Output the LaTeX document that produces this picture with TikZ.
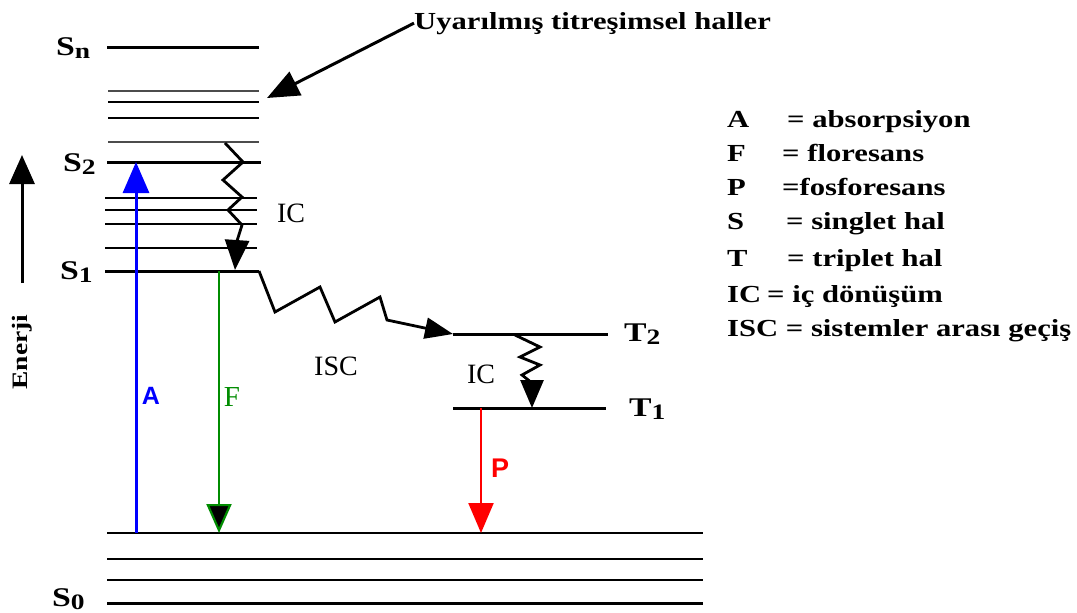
\documentclass[tikz,border=0pt]{standalone}
\usepackage{fontspec}
\setmainfont{Liberation Serif}
\newfontfamily\widebf{Liberation Serif}[FakeStretch=1.25]
\newfontfamily\sansbf{Liberation Sans}
\usetikzlibrary{arrows.meta}
\definecolor{absblue}{RGB}{0,0,255}
\definecolor{flugreen}{RGB}{0,140,0}
\definecolor{phored}{RGB}{255,0,0}
\newcommand{\lsub}[1]{\raisebox{-3pt}{\fontsize{22}{22}\selectfont #1}}

\begin{document}
\begin{tikzpicture}[
    x=1pt, y=-1pt,
    lvl/.style={line width=3pt},
    vib/.style={line width=1.7pt},
    nm/.style={font=\widebf\bfseries\fontsize{27}{27}\selectfont, inner sep=0pt, anchor=base west},
    leg/.style={font=\widebf\bfseries\fontsize{24.5}{24.5}\selectfont, inner sep=0pt, anchor=base west},
    ic/.style={font=\fontsize{28}{28}\selectfont, inner sep=0pt},
    tri/.style={-{Triangle[length=30pt,width=24pt]}},
    wig/.style={tri, line width=2.8pt, line join=miter},
    lt/.style={font=\sansbf\bfseries\fontsize{25}{25}\selectfont, inner sep=0pt}
]
\useasboundingbox (0,0) rectangle (1077,613);

% singlet levels
\draw[lvl] (107,47) -- (259,47);
\draw[vib, black!70] (108,91) -- (259,91);
\draw[vib] (108,102) -- (259,102) (108,118) -- (259,118);
\draw[vib, black!70] (108,142) -- (259,142);
\draw[lvl] (107,162) -- (261,162);
\draw[vib] (105,198) -- (257,198) (105,210) -- (257,210)
           (105,224) -- (257,224) (105,248) -- (257,248);
\draw[lvl] (105,271) -- (259,271);

% ground state
\draw[vib] (107,533) -- (703,533) (107,559) -- (703,559) (107,580) -- (703,580);
\draw[lvl] (107,603) -- (703,603);

% triplet levels
\draw[lvl] (453,334) -- (608,334);
\draw[lvl] (453,408) -- (606,408);

\node[nm] (Sn) at (56,55) {S\lsub{n}};
\node[nm] (S2) at (63,171) {S\lsub{2}};
\node[nm] (S1) at (60,279) {S\lsub{1}};
\node[nm] (S0) at (52,606) {S\lsub{0}};
\node[nm] (T2) at (624,341) {T\lsub{2}};
\node[nm] (T1) at (629,416) {T\lsub{1}};

% energy axis
\coordinate (eA) at (22,283);
\coordinate (eB) at (22,155);
\draw[-{Triangle[length=29pt,width=25pt]}, line width=3pt] (eA) -- (eB);
\node[nm, anchor=center, rotate=90, font=\widebf\bfseries\fontsize{22}{22}\selectfont] (en) at (22,352) {Enerji};

% radiative transitions
\coordinate (absA) at (136,533);
\coordinate (absB) at (136,162);
\draw[absblue, line width=3pt, -{Triangle[length=31pt,width=26pt]}] (absA) -- (absB);
\node[lt, absblue] (labA) at (151,396) {A};

\coordinate (fluA) at (219,271);
\coordinate (fluB) at (219,533);
\draw[flugreen, line width=2.2pt, -{Triangle[length=29pt,width=25pt,fill=black]}] (fluA) -- (fluB);
\node[ic, flugreen, font=\fontsize{29}{29}\selectfont] (labF) at (232,397) {F};

\coordinate (phoA) at (481,408);
\coordinate (phoB) at (481,533);
\draw[phored, line width=2.2pt, -{Triangle[length=30pt,width=25pt]}] (phoA) -- (phoB);
\node[lt, phored, font=\sansbf\bfseries\fontsize{27}{27}\selectfont] (labP) at (500,468) {P};

% nonradiative transitions
\coordinate (ic1A) at (225,143);
\coordinate (ic1B) at (235,270);
\draw[wig] (ic1A) -- (243,162) -- (223,180) -- (242,197) -- (228,210) -- (242,225) -- (237,241) -- (ic1B);
\node[ic] (labIC1) at (291,213) {IC};

\coordinate (iscA) at (259,271);
\coordinate (iscB) at (453,334);
\draw[wig, -{Triangle[length=28pt,width=21pt]}] (iscA) -- (275,312) -- (320,287) -- (335,322) -- (380,297) -- (387,320) -- (iscB);
\node[ic] (labISC) at (336,366) {ISC};

\coordinate (ic2A) at (515,335);
\coordinate (ic2B) at (532,408);
\draw[wig, -{Triangle[length=28pt,width=23pt]}] (ic2A) -- (540,347) -- (520,357) -- (540,365) -- (522,375) -- (532,383) -- (ic2B);
\node[ic] (labIC2) at (481,374) {IC};

% note
\node[leg] (note) at (414,29) {Uyarılmış titreşimsel haller};
\coordinate (noteB) at (267,98);
\draw[line width=3pt, -{Triangle[length=32pt,width=26pt]}] (note.west) -- (noteB);

% legend
\node[leg] (kA) at (727,127) {\makebox[60pt][l]{A}= absorpsiyon};
\node[leg] (kF) at (727,161) {\makebox[55pt][l]{F}= floresans};
\node[leg] (kP) at (727,195) {\makebox[55pt][l]{P}=fosforesans};
\node[leg] (kS) at (727,229) {\makebox[59pt][l]{S}= singlet hal};
\node[leg] (kT) at (727,266) {\makebox[60pt][l]{T}= triplet hal};
\node[leg] (kIC) at (727,302) {\makebox[40pt][l]{IC}= iç dönüşüm};
\node[leg] (kISC) at (727,336) {ISC = sistemler arası geçiş};
\end{tikzpicture}
\end{document}
